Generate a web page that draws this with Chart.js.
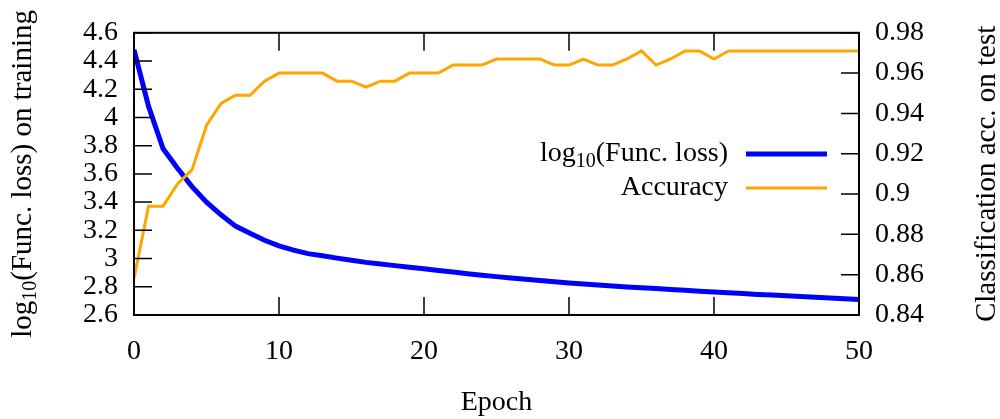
<!DOCTYPE html>
<html>
<head>
<meta charset="utf-8">
<script src="https://cdn.jsdelivr.net/npm/chart.js@4.4.1/dist/chart.umd.min.js"></script>
<style>
  html, body { margin: 0; padding: 0; background: #fff; }
  #wrap { width: 1000px; height: 419px; }
</style>
</head>
<body>
<div id="wrap"><canvas id="chart" width="1000" height="419"></canvas></div>
<script>
// Values
const epochs = [0, 1, 2, 3, 4, 5, 6, 7, 8, 9, 10, 11, 12, 13, 14, 15, 16, 17, 18, 19, 20,
    21, 22, 23, 24, 25, 26, 27, 28, 29, 30, 31, 32, 33, 34, 35, 36, 37, 38, 39, 40,
    41, 42, 43, 44, 45, 46, 47, 48, 49, 50];
const lossValues = [4.48, 4.08, 3.78, 3.64, 3.51, 3.40, 3.31, 3.23, 3.18, 3.13, 3.09,
    3.06, 3.035, 3.02, 3.003, 2.988, 2.973, 2.962, 2.95, 2.938, 2.927,
    2.915, 2.904, 2.893, 2.882, 2.872, 2.862, 2.853, 2.844, 2.835, 2.826,
    2.819, 2.812, 2.806, 2.799, 2.793, 2.787, 2.781, 2.775, 2.769, 2.763,
    2.757, 2.752, 2.746, 2.741, 2.736, 2.731, 2.726, 2.72, 2.715, 2.71];
const accValues = [0.858, 0.894, 0.894, 0.905, 0.912, 0.934, 0.945, 0.949, 0.949, 0.956, 0.960,
    0.960, 0.960, 0.960, 0.956, 0.956, 0.953, 0.956, 0.956, 0.960, 0.960,
    0.960, 0.964, 0.964, 0.964, 0.967, 0.967, 0.967, 0.967, 0.964, 0.964,
    0.967, 0.964, 0.964, 0.967, 0.971, 0.964, 0.967, 0.971, 0.971, 0.967,
    0.971, 0.971, 0.971, 0.971, 0.971, 0.971, 0.971, 0.971, 0.971, 0.971];

const xTicks = [0, 10, 20, 30, 40, 50];
const yTicks = [2.6, 2.8, 3, 3.2, 3.4, 3.6, 3.8, 4, 4.2, 4.4, 4.6];
const y2Ticks = [0.84, 0.86, 0.88, 0.9, 0.92, 0.94, 0.96, 0.98];

const FONT = "'Liberation Serif', 'Times New Roman', serif";
const SIZE = 28;
const SUB = 20;

function pts(ys) {
    return epochs.map((e, i) => ({ x: e, y: ys[i] }));
}

function fixTicks(list) {
    return function (scale) {
        scale.ticks = list.map(v => ({ value: v }));
    };
}

function fmt(v) {
    return String(+(+v).toFixed(2));
}

// text with a subscript part, e.g. log_10
function richWidth(ctx, parts, size) {
    let w = 0;
    parts.forEach(p => {
        ctx.font = (p.sub ? SUB : size) + 'px ' + FONT;
        w += ctx.measureText(p.t).width;
    });
    return w;
}

function drawRich(ctx, parts, x, y, align, size) {
    size = size || SIZE;
    const w = richWidth(ctx, parts, size);
    let cx = align === 'right' ? x - w : align === 'center' ? x - w / 2 : x;
    ctx.textAlign = 'left';
    ctx.textBaseline = 'middle';
    parts.forEach(p => {
        ctx.font = (p.sub ? SUB : size) + 'px ' + FONT;
        ctx.fillText(p.t, cx, p.sub ? y + 8 : y);
        cx += ctx.measureText(p.t).width;
    });
}

const lossLabel = [{ t: 'log' }, { t: '10', sub: true }, { t: '(Func. loss)' }];
const leftTitle = [{ t: 'log' }, { t: '10', sub: true }, { t: '(Func. loss) on training' }];

const framePlugin = {
    id: 'frameTicks',
    afterDraw(chart) {
        const ctx = chart.ctx;
        const a = chart.chartArea;
        const sx = chart.scales.x, sy = chart.scales.y, sy2 = chart.scales.y2;
        const tl = 18;
        ctx.save();
        ctx.strokeStyle = '#000';
        ctx.lineWidth = 1.5;
        ctx.beginPath();
        xTicks.forEach(v => {
            const px = sx.getPixelForValue(v);
            ctx.moveTo(px, a.bottom); ctx.lineTo(px, a.bottom - tl);
            ctx.moveTo(px, a.top); ctx.lineTo(px, a.top + tl);
        });
        yTicks.forEach(v => {
            const py = sy.getPixelForValue(v);
            ctx.moveTo(a.left, py); ctx.lineTo(a.left + tl, py);
        });
        y2Ticks.forEach(v => {
            const py = sy2.getPixelForValue(v);
            ctx.moveTo(a.right, py); ctx.lineTo(a.right - tl, py);
        });
        ctx.stroke();
        ctx.lineWidth = 2;
        ctx.strokeRect(a.left, a.top, a.right - a.left, a.bottom - a.top);

        // legend, text right aligned with sample line on the right
        ctx.fillStyle = '#000';
        const ds = chart.data.datasets;
        const rows = [
            { parts: lossLabel, color: ds[1].borderColor, w: ds[1].borderWidth, y: 154 },
            { parts: [{ t: ds[0].label }], color: ds[0].borderColor, w: ds[0].borderWidth, y: 188 }
        ];
        rows.forEach(r => {
            drawRich(ctx, r.parts, 728, r.y, 'right');
            ctx.strokeStyle = r.color;
            ctx.lineWidth = r.w;
            ctx.beginPath();
            ctx.moveTo(746, r.y); ctx.lineTo(827, r.y);
            ctx.stroke();
        });

        // axis titles
        ctx.fillStyle = '#000';
        drawRich(ctx, [{ t: 'Epoch' }], (a.left + a.right) / 2, 403, 'center');
        const cy = (a.top + a.bottom) / 2;
        ctx.save();
        ctx.translate(23, cy);
        ctx.rotate(-Math.PI / 2);
        drawRich(ctx, leftTitle, 0, 0, 'center', 29);
        ctx.restore();
        ctx.save();
        ctx.translate(987, cy);
        ctx.rotate(-Math.PI / 2);
        drawRich(ctx, [{ t: 'Classification acc. on test' }], 0, 0, 'center', 29);
        ctx.restore();
        ctx.restore();
    }
};

new Chart(document.getElementById('chart'), {
    type: 'line',
    data: {
        datasets: [
            {
                label: 'Accuracy',
                data: pts(accValues),
                yAxisID: 'y2',
                borderColor: '#ffa500',
                borderWidth: 3,
                order: 0
            },
            {
                label: 'log10(Func. loss)',
                data: pts(lossValues),
                yAxisID: 'y',
                borderColor: '#0000ff',
                borderWidth: 5,
                order: 1
            }
        ]
    },
    options: {
        responsive: false,
        animation: false,
        layout: { padding: { top: 29, left: 0, right: 0, bottom: 0 } },
        elements: {
            point: { radius: 0 },
            line: { tension: 0, fill: false, borderCapStyle: 'butt', borderJoinStyle: 'miter' }
        },
        plugins: {
            legend: { display: false },
            tooltip: { enabled: false }
        },
        scales: {
            x: {
                type: 'linear',
                min: 0,
                max: 50,
                afterBuildTicks: fixTicks(xTicks),
                afterFit(s) { s.height = 104; },
                grid: { display: false, drawTicks: false },
                border: { display: false },
                ticks: {
                    color: '#000',
                    font: { family: FONT, size: SIZE },
                    padding: 20,
                    maxRotation: 0,
                    autoSkip: false,
                    callback: fmt
                }
            },
            y: {
                position: 'left',
                min: 2.6,
                max: 4.6,
                afterBuildTicks: fixTicks(yTicks),
                afterFit(s) { s.width = 134; },
                grid: { display: false, drawTicks: false },
                border: { display: false },
                ticks: {
                    color: '#000',
                    font: { family: FONT, size: SIZE },
                    padding: 16,
                    autoSkip: false,
                    callback: fmt
                }
            },
            y2: {
                position: 'right',
                min: 0.84,
                max: 0.98,
                afterBuildTicks: fixTicks(y2Ticks),
                afterFit(s) { s.width = 141; },
                grid: { display: false, drawTicks: false },
                border: { display: false },
                ticks: {
                    color: '#000',
                    font: { family: FONT, size: SIZE },
                    padding: 16,
                    autoSkip: false,
                    callback: fmt
                }
            }
        }
    },
    plugins: [framePlugin]
});
</script>
</body>
</html>
